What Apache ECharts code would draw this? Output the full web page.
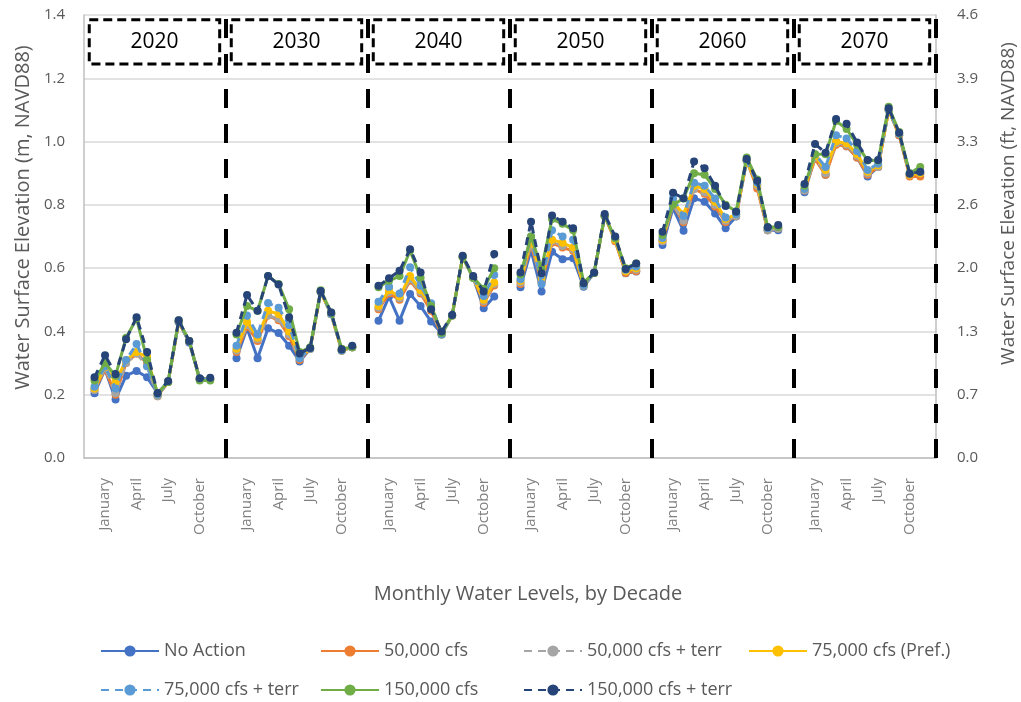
<!DOCTYPE html>
<html>
<head>
<meta charset="utf-8">
<script src="https://cdn.jsdelivr.net/npm/echarts@6/dist/echarts.min.js"></script>
<style>
  html, body { margin: 0; padding: 0; background: #fff; }
  #chart { width: 1021px; height: 702px; }
</style>
</head>
<body>
<div id="chart"></div>
<script>
// Decades shown side by side, 12 monthly points each
const decades = ['2020', '2030', '2040', '2050', '2060', '2070'];
const months = ['December', 'January', 'February', 'March', 'April', 'May',
                'June', 'July', 'August', 'September', 'October', 'November'];
const labeledMonths = ['January', 'April', 'July', 'October'];

// Water surface elevation (m, NAVD88), decade by decade
const noAction = [
  0.205, 0.28, 0.185, 0.26, 0.275, 0.255, 0.205, 0.24, 0.43, 0.365, 0.25, 0.25,
  0.315, 0.41, 0.315, 0.41, 0.395, 0.355, 0.305, 0.345, 0.525, 0.455, 0.34, 0.35,
  0.434, 0.51, 0.434, 0.518, 0.48, 0.431, 0.394, 0.45, 0.635, 0.57, 0.473, 0.51,
  0.54, 0.657, 0.526, 0.652, 0.628, 0.631, 0.541, 0.585, 0.765, 0.69, 0.584, 0.589,
  0.673, 0.79, 0.718, 0.821, 0.81, 0.773, 0.726, 0.763, 0.94, 0.86, 0.72, 0.72,
  0.84, 0.95, 0.895, 1.0, 0.985, 0.95, 0.89, 0.92, 1.1, 1.02, 0.895, 0.895
];
const cfs50 = [
  0.215, 0.28, 0.2, 0.3, 0.33, 0.3, 0.195, 0.24, 0.43, 0.37, 0.25, 0.25,
  0.335, 0.415, 0.37, 0.45, 0.435, 0.385, 0.31, 0.345, 0.525, 0.455, 0.34, 0.35,
  0.47, 0.52, 0.5, 0.56, 0.52, 0.465, 0.39, 0.45, 0.635, 0.57, 0.49, 0.545,
  0.55, 0.675, 0.555, 0.68, 0.665, 0.655, 0.545, 0.585, 0.765, 0.685, 0.585, 0.59,
  0.685, 0.8, 0.745, 0.85, 0.835, 0.795, 0.745, 0.765, 0.94, 0.852, 0.72, 0.725,
  0.845, 0.945, 0.895, 0.99, 0.985, 0.95, 0.895, 0.92, 1.1, 1.02, 0.89, 0.89
];
const cfs50Terr = [
  0.215, 0.285, 0.205, 0.3, 0.33, 0.29, 0.195, 0.24, 0.43, 0.37, 0.25, 0.25,
  0.34, 0.42, 0.375, 0.45, 0.44, 0.39, 0.315, 0.345, 0.525, 0.455, 0.34, 0.35,
  0.475, 0.525, 0.505, 0.565, 0.525, 0.47, 0.39, 0.45, 0.635, 0.57, 0.495, 0.55,
  0.555, 0.68, 0.56, 0.685, 0.67, 0.66, 0.545, 0.585, 0.765, 0.69, 0.59, 0.595,
  0.685, 0.8, 0.75, 0.85, 0.84, 0.8, 0.75, 0.765, 0.94, 0.86, 0.72, 0.725,
  0.845, 0.95, 0.9, 0.995, 0.99, 0.955, 0.9, 0.92, 1.1, 1.025, 0.895, 0.9
];
const cfs75 = [
  0.22, 0.29, 0.24, 0.31, 0.335, 0.32, 0.2, 0.24, 0.43, 0.37, 0.25, 0.25,
  0.345, 0.43, 0.38, 0.465, 0.455, 0.4, 0.32, 0.345, 0.525, 0.455, 0.34, 0.35,
  0.48, 0.53, 0.51, 0.575, 0.53, 0.48, 0.395, 0.45, 0.635, 0.57, 0.5, 0.555,
  0.56, 0.69, 0.57, 0.69, 0.68, 0.665, 0.545, 0.585, 0.765, 0.69, 0.59, 0.6,
  0.69, 0.81, 0.77, 0.86, 0.85, 0.81, 0.755, 0.77, 0.94, 0.865, 0.725, 0.73,
  0.85, 0.955, 0.91, 1.0, 0.995, 0.96, 0.905, 0.925, 1.1, 1.025, 0.895, 0.9
];
const cfs75Terr = [
  0.225, 0.29, 0.22, 0.31, 0.36, 0.29, 0.2, 0.24, 0.43, 0.37, 0.25, 0.25,
  0.355, 0.45, 0.39, 0.49, 0.475, 0.42, 0.315, 0.345, 0.525, 0.455, 0.34, 0.35,
  0.494, 0.541, 0.52, 0.603, 0.544, 0.489, 0.39, 0.45, 0.635, 0.57, 0.512, 0.578,
  0.565, 0.7, 0.55, 0.72, 0.7, 0.69, 0.545, 0.585, 0.765, 0.695, 0.595, 0.605,
  0.695, 0.82, 0.765, 0.87, 0.86, 0.82, 0.76, 0.77, 0.94, 0.87, 0.725, 0.73,
  0.85, 0.96, 0.92, 1.02, 1.01, 0.97, 0.91, 0.93, 1.1, 1.025, 0.9, 0.905
];
const cfs150 = [
  0.245, 0.3, 0.26, 0.38, 0.44, 0.31, 0.205, 0.24, 0.435, 0.37, 0.245, 0.245,
  0.39, 0.48, 0.465, 0.575, 0.55, 0.47, 0.335, 0.35, 0.53, 0.46, 0.345, 0.35,
  0.54, 0.56, 0.575, 0.655, 0.57, 0.48, 0.395, 0.45, 0.635, 0.57, 0.535, 0.6,
  0.58, 0.7, 0.6, 0.755, 0.74, 0.72, 0.555, 0.585, 0.765, 0.695, 0.6, 0.615,
  0.705, 0.8, 0.82, 0.9, 0.895, 0.85, 0.8, 0.78, 0.95, 0.88, 0.73, 0.73,
  0.86, 0.96, 0.96, 1.065, 1.04, 0.99, 0.94, 0.94, 1.11, 1.03, 0.9, 0.92
];
const cfs150Terr = [
  0.255, 0.325, 0.265, 0.375, 0.445, 0.335, 0.205, 0.243, 0.435, 0.37, 0.252, 0.254,
  0.396, 0.515, 0.465, 0.575, 0.548, 0.445, 0.33, 0.348, 0.528, 0.46, 0.343, 0.355,
  0.544, 0.568, 0.592, 0.66, 0.586, 0.47, 0.4, 0.452, 0.639, 0.575, 0.526, 0.645,
  0.586, 0.747, 0.584, 0.766, 0.747, 0.726, 0.552, 0.586, 0.771, 0.7, 0.597, 0.615,
  0.715, 0.838, 0.821, 0.937, 0.916, 0.86, 0.796, 0.778, 0.945, 0.876, 0.729, 0.736,
  0.866, 0.992, 0.965, 1.071, 1.056, 0.997, 0.942, 0.942, 1.105, 1.028, 0.898, 0.905
];

// Left axis ticks (m); right axis shows the same levels in feet
const yTicks = [0.0, 0.2, 0.4, 0.6, 0.8, 1.0, 1.2, 1.4];
const M_TO_FT = 3.28084;

// Each decade occupies a block of 13.5 month-slots on the x scale
const BLOCK = 13.5;
const FIRST = 1;

const seriesDefs = [
  { name: 'No Action',           data: noAction,   color: '#4472C4', dashed: false },
  { name: '50,000 cfs',          data: cfs50,      color: '#ED7D31', dashed: false },
  { name: '50,000 cfs + terr',   data: cfs50Terr,  color: '#A5A5A5', dashed: true },
  { name: '75,000 cfs (Pref.)',  data: cfs75,      color: '#FFC000', dashed: false },
  { name: '75,000 cfs + terr',   data: cfs75Terr,  color: '#5B9BD5', dashed: true },
  { name: '150,000 cfs',         data: cfs150,     color: '#70AD47', dashed: false },
  { name: '150,000 cfs + terr',  data: cfs150Terr, color: '#264478', dashed: true }
];

function toPoints(values) {
  const pts = [];
  decades.forEach((dec, d) => {
    for (let m = 0; m < months.length; m++) {
      pts.push([d * BLOCK + FIRST + m, values[d * months.length + m]]);
    }
    // break the line between decades
    pts.push([d * BLOCK + FIRST + months.length, '-']);
  });
  return pts;
}

function monthLabel(v) {
  const d = Math.floor(v / BLOCK + 1e-9);
  const rel = v - d * BLOCK - FIRST;
  const r = Math.round(rel);
  if (Math.abs(rel - r) > 1e-6 || r < 0 || r >= months.length) return '';
  return labeledMonths.indexOf(months[r]) >= 0 ? months[r] : '';
}

const FONT = 'Open Sans';
const TEXT = '#595959';

const series = seriesDefs.map((s, i) => ({
  name: s.name,
  type: 'line',
  data: toPoints(s.data),
  connectNulls: false,
  symbol: 'circle',
  symbolSize: 8,
  itemStyle: { color: s.color },
  lineStyle: { color: s.color, width: 3, type: s.dashed ? [8, 6] : 'solid' },
  z: 2 + i
}));

// Decade separators and labelled decade boxes
series[0].markLine = {
  silent: true,
  symbol: ['none', 'none'],
  label: { show: false },
  lineStyle: { color: '#000', width: 4, type: [19, 16] },
  data: decades.map((d, i) => ({ xAxis: (i + 1) * BLOCK }))
};
series[0].markArea = {
  silent: true,
  itemStyle: { color: '#fff', borderColor: '#000', borderWidth: 3, borderType: [9, 5] },
  label: { show: true, position: 'inside', color: '#000', fontSize: 21, fontFamily: FONT },
  data: decades.map((d, i) => [
    { name: d, xAxis: i * BLOCK + 0.5, yAxis: 1.385 },
    { xAxis: i * BLOCK + 12.9, yAxis: 1.245 }
  ])
};

const legendCommon = {
  orient: 'vertical',
  top: 642,
  padding: 0,
  itemWidth: 58,
  itemHeight: 14,
  itemGap: 21,
  textStyle: { color: TEXT, fontSize: 18, fontFamily: FONT }
};

const option = {
  animation: false,
  textStyle: { fontFamily: FONT },
  grid: { left: 84, right: 85, top: 15, bottom: 244, containLabel: false, outerBoundsMode: 'none' },
  legend: [
    Object.assign({ left: 100, data: ['No Action', '75,000 cfs + terr'] }, legendCommon),
    Object.assign({ left: 320, data: ['50,000 cfs', '150,000 cfs'] }, legendCommon),
    Object.assign({ left: 523, data: ['50,000 cfs + terr', '150,000 cfs + terr'] }, legendCommon),
    Object.assign({ left: 748, data: ['75,000 cfs (Pref.)'] }, legendCommon)
  ],
  xAxis: {
    type: 'value',
    min: 0,
    max: decades.length * BLOCK,
    interval: 0.5,
    name: 'Monthly Water Levels, by Decade',
    nameLocation: 'middle',
    nameGap: 126,
    nameTextStyle: { color: TEXT, fontSize: 20, fontFamily: FONT, padding: [0, 0, 0, 36] },
    axisLine: { lineStyle: { color: '#BFBFBF', width: 1.5 } },
    axisTick: { show: false },
    splitLine: { show: false },
    axisLabel: {
      rotate: 90,
      margin: 20,
      color: '#808080',
      fontSize: 15,
      fontFamily: FONT,
      formatter: monthLabel
    }
  },
  yAxis: [
    {
      type: 'value',
      min: yTicks[0],
      max: yTicks[yTicks.length - 1],
      interval: 0.2,
      name: 'Water Surface Elevation (m, NAVD88)',
      nameLocation: 'middle',
      nameRotate: 90,
      nameGap: 22,
      nameTextStyle: { color: TEXT, fontSize: 20, fontFamily: FONT, padding: [0, 0, 0, 38] },
      axisLine: { show: true, lineStyle: { color: '#BFBFBF', width: 1.5 } },
      axisTick: { show: false },
      splitLine: { lineStyle: { color: '#D9D9D9', width: 1.5 } },
      axisLabel: { color: TEXT, fontSize: 15, margin: 19, fontFamily: FONT, formatter: v => v.toFixed(1) }
    },
    {
      type: 'value',
      position: 'right',
      min: yTicks[0],
      max: yTicks[yTicks.length - 1],
      interval: 0.2,
      name: 'Water Surface Elevation (ft, NAVD88)',
      nameLocation: 'middle',
      nameRotate: 90,
      nameGap: 63,
      nameTextStyle: { color: TEXT, fontSize: 19, fontFamily: FONT, padding: [0, 0, 0, 66] },
      axisLine: { show: true, lineStyle: { color: '#BFBFBF', width: 1.5 } },
      axisTick: { show: false },
      splitLine: { show: false },
      axisLabel: { color: TEXT, fontSize: 15, margin: 21, fontFamily: FONT, formatter: v => (v * M_TO_FT).toFixed(1) }
    }
  ],
  series: series
};

const chart = echarts.init(document.getElementById('chart'), null, { renderer: 'canvas' });
chart.setOption(option);
</script>
</body>
</html>
